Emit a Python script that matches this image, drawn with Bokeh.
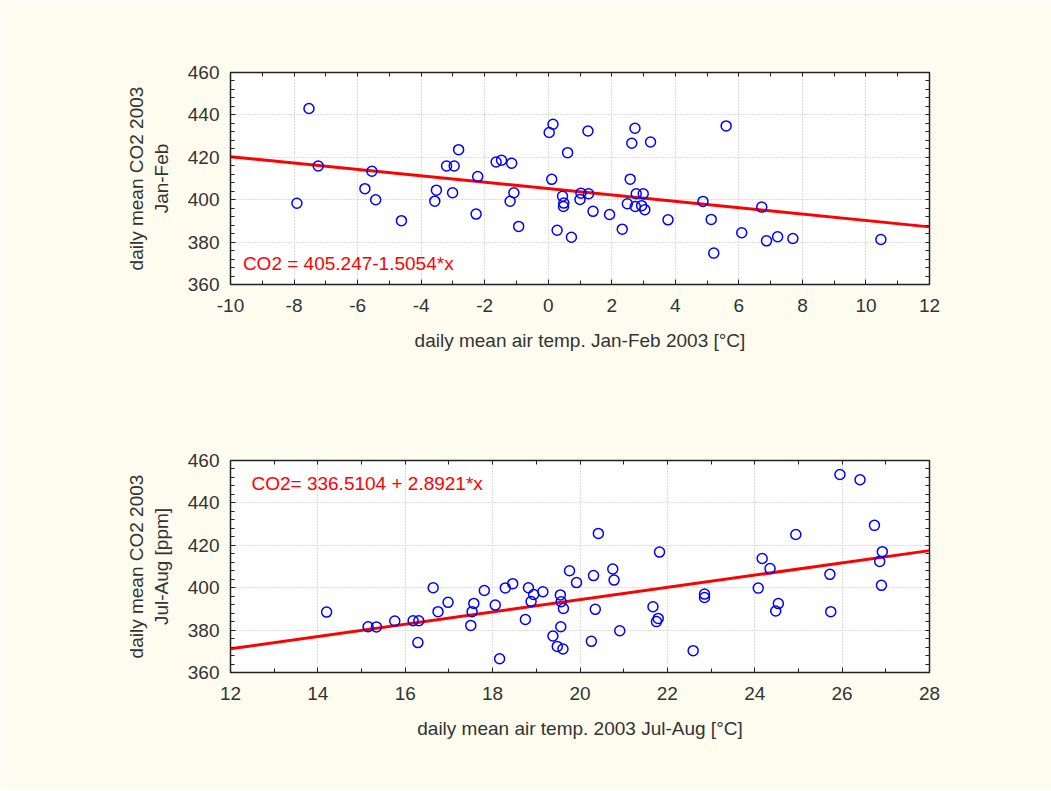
from bokeh.plotting import figure
from bokeh.models import Range1d, SingleIntervalTicker, FixedTicker, LinearAxis, Label
from bokeh.layouts import column
from bokeh.embed import file_html
from bokeh.resources import INLINE

# ---- data: Jan-Feb 2003 ----
jan_temp = [-7.53, -7.91, -7.24, -5.55, -5.77, -5.43, -4.62, -3.57, -3.52, -3.20,
            -2.96, -2.82, -3.01, -2.22, -2.27, -1.64, -1.47, -1.15, -1.08, -1.20,
            -0.93, 0.03, 0.15, 0.61, 0.11, 0.45, 0.49, 0.48, 0.28, 0.73,
            1.25, 1.00, 1.03, 1.27, 1.41, 1.93, 2.33, 2.58, 2.63, 2.73,
            3.22, 2.49, 2.74, 2.77, 2.99, 2.94, 3.04, 3.77, 4.87, 5.13,
            5.21, 5.60, 6.09, 6.72, 6.87, 7.22, 7.70, 10.47]
jan_co2 = [443.0, 398.3, 415.9, 413.4, 405.2, 400.0, 390.1, 399.3, 404.5, 415.9,
           415.9, 423.6, 403.3, 410.9, 393.2, 417.8, 418.6, 417.2, 403.3, 399.3,
           387.4, 431.7, 435.6, 422.2, 409.6, 401.6, 398.4, 396.8, 385.6, 382.3,
           432.4, 400.1, 403.1, 402.8, 394.5, 393.0, 386.1, 409.7, 426.6, 433.7,
           427.2, 398.1, 396.8, 402.8, 402.8, 397.2, 395.3, 390.5, 399.2, 390.7,
           374.8, 434.8, 384.4, 396.5, 380.6, 382.5, 381.7, 381.2]
jan_intercept = 405.247
jan_slope = -1.5054
jan_xticks = [-10, -8, -6, -4, -2, 0, 2, 4, 6, 8, 10, 12]
jan_xlabels = ["-10", "-8", "-6", "-4", "-2", "0", "2", "4", "6", "8", "10", "12"]

# ---- data: Jul-Aug 2003 ----
jul_temp = [14.20, 15.15, 15.34, 15.76, 16.18, 16.31, 16.29, 16.64, 16.75, 16.98,
            17.50, 17.53, 17.57, 17.81, 18.06, 18.16, 18.29, 18.46, 18.75, 18.82,
            18.88, 18.94, 19.15, 19.38, 19.48, 19.61, 19.56, 19.55, 19.57, 19.62,
            19.76, 19.92, 20.31, 20.42, 20.35, 20.26, 20.75, 20.78, 20.91, 21.82,
            21.67, 21.75, 21.79, 22.59, 22.85, 22.85, 24.08, 24.17, 24.35, 24.48,
            24.54, 24.94, 25.72, 25.74, 25.95, 26.41, 26.74, 26.92, 26.86, 26.90]
jul_co2 = [388.5, 381.6, 381.5, 384.3, 384.4, 384.4, 374.1, 400.0, 388.7, 393.1,
           382.2, 388.7, 392.6, 398.7, 391.8, 366.5, 399.9, 401.9, 385.0, 400.0,
           393.5, 396.8, 398.1, 377.2, 372.3, 371.1, 381.6, 396.6, 393.4, 390.2,
           408.0, 402.4, 405.7, 425.6, 389.8, 374.7, 408.8, 403.6, 379.7, 416.8,
           391.0, 384.0, 385.5, 370.3, 397.0, 395.4, 399.8, 413.8, 409.0, 389.0,
           392.5, 425.1, 406.3, 388.7, 453.4, 450.9, 429.4, 417.0, 412.4, 401.1]
jul_intercept = 336.5104
jul_slope = 2.8921
jul_xticks = [12, 14, 16, 18, 20, 22, 24, 26, 28]
jul_xlabels = ["12", "14", "16", "18", "20", "22", "24", "26", "28"]

y_ticks = [360, 380, 400, 420, 440, 460]
y_labels = ["360", "380", "400", "420", "440", "460"]

BG = "#FEFCEF"
TXT = "#333333"
TICK = "#222222"
FONT = "Liberation Sans"
FS = "19px"


def style_main(ax):
    ax.axis_line_color = None
    ax.major_tick_in = 5
    ax.major_tick_out = 0
    ax.minor_tick_in = 4
    ax.minor_tick_out = 0
    ax.major_tick_line_color = TICK
    ax.minor_tick_line_color = TICK
    ax.major_label_text_font = FONT
    ax.major_label_text_font_size = FS
    ax.major_label_text_color = TXT
    ax.axis_label_text_font = FONT
    ax.axis_label_text_font_size = FS
    ax.axis_label_text_font_style = "normal"
    ax.axis_label_text_color = TXT


def style_mirror(ax):
    ax.axis_line_color = None
    ax.major_tick_in = 0
    ax.major_tick_out = 0
    ax.minor_tick_in = 4
    ax.minor_tick_out = 0
    ax.minor_tick_line_color = TICK


def make_plot(xs, ys, intercept, slope, xticks, xlabels, xlabel, ylabel,
              eq_text, eq_x, eq_y, height, top_border, bottom_border):
    x0, x1 = xticks[0], xticks[-1]
    y0, y1 = y_ticks[0], y_ticks[-1]
    p = figure(width=1051, height=height, output_backend="svg", toolbar_location=None,
               x_range=Range1d(x0, x1), y_range=Range1d(y0, y1),
               min_border_left=230, min_border_right=122, min_border_top=top_border,
               min_border_bottom=bottom_border, background_fill_color="white",
               border_fill_color=BG, outline_line_color=TICK, outline_line_width=1.5)
    p.xaxis.ticker = SingleIntervalTicker(interval=2, num_minor_ticks=2)
    p.yaxis.ticker = SingleIntervalTicker(interval=20, num_minor_ticks=5)
    style_main(p.xaxis[0])
    style_main(p.yaxis[0])
    p.xaxis.major_label_overrides = dict(zip(xticks, xlabels))
    p.yaxis.major_label_overrides = dict(zip(y_ticks, y_labels))
    p.xaxis.axis_label = xlabel
    p.yaxis.axis_label = ylabel
    p.xaxis.major_label_standoff = 14
    p.xaxis.axis_label_standoff = 15
    p.yaxis.major_label_standoff = 11
    p.yaxis.axis_label_standoff = 13

    # mirror ticks on top and right (no labels)
    top_ax = LinearAxis(ticker=FixedTicker(ticks=[], minor_ticks=list(range(x0, x1 + 1))))
    right_ax = LinearAxis(ticker=FixedTicker(ticks=[], minor_ticks=list(range(y0, y1 + 1, 4))))
    style_mirror(top_ax)
    style_mirror(right_ax)
    p.add_layout(top_ax, "above")
    p.add_layout(right_ax, "right")

    p.grid.grid_line_color = "#BBBBBB"
    p.grid.grid_line_dash = "1 2"
    p.grid.grid_line_width = 1

    line_x = [x0, x1]
    line_y = [intercept + slope * v for v in line_x]
    p.line(line_x, line_y, line_color="#FF0000", line_width=3)
    p.scatter(xs, ys, marker="circle", size=10, fill_color=None,
              line_color="#0000FF", line_width=1.5)
    p.add_layout(Label(x=eq_x, y=eq_y, text=eq_text, text_color="#FF0000",
                       text_font=FONT, text_font_size=FS, text_baseline="middle"))
    return p


p1 = make_plot(jan_temp, jan_co2, jan_intercept, jan_slope, jan_xticks, jan_xlabels,
               "daily mean air temp. Jan-Feb 2003 [°C]", "daily mean CO2 2003\nJan-Feb",
               "CO2 = 405.247-1.5054*x", -9.61, 370.0, 395, 72, 111)
p2 = make_plot(jul_temp, jul_co2, jul_intercept, jul_slope, jul_xticks, jul_xlabels,
               "daily mean air temp. 2003 Jul-Aug [°C]", "daily mean CO2 2003\nJul-Aug [ppm]",
               "CO2= 336.5104 + 2.8921*x", 12.48, 449.2, 394, 65, 117)

layout = column(p1, p2, spacing=0)
open("out.html", "w").write(file_html(layout, INLINE))
